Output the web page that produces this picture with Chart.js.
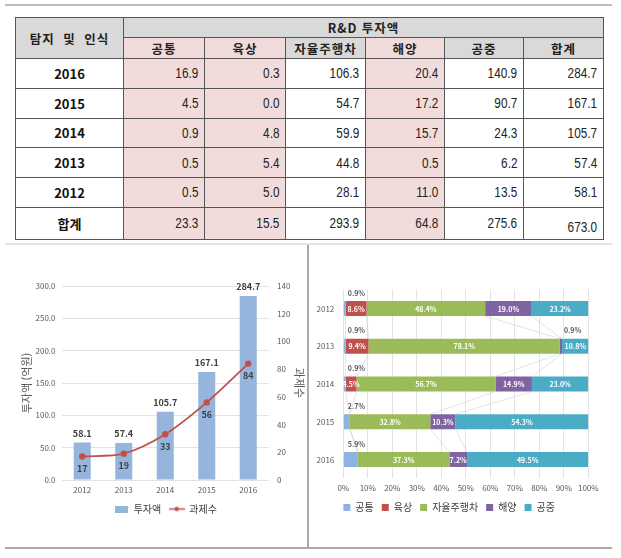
<!DOCTYPE html>
<html lang="ko">
<head>
<meta charset="utf-8">
<script src="https://cdn.jsdelivr.net/npm/chart.js@4.4.1/dist/chart.umd.min.js"></script>
<style>
  html, body { margin: 0; padding: 0; background: #fff; }
  body { position: relative; width: 621px; height: 558px; overflow: hidden; }
  .rule { position: absolute; }
  #tbl {
    position: absolute; left: 15px; top: 17px; width: 588px; height: 223px;
    border-collapse: collapse; table-layout: fixed;
    font-family: "Liberation Sans", sans-serif;
  }
  #tbl th, #tbl td { border: 1px solid #555; padding: 0; }
  #tbl th {
    font-family: "Noto Sans CJK KR", sans-serif; font-weight: bold;
    font-size: 12.5px; color: #222; letter-spacing: 1px; text-align: center;
  }
  #tbl td.yr { font-family: "Noto Sans CJK KR", sans-serif; font-weight: bold; font-size: 13px; text-align: center; color: #111; }
  #tbl td.tot { font-family: "Noto Sans CJK KR", sans-serif; font-weight: bold; font-size: 13px; text-align: center; color: #111; }
  #tbl td.v { font-size: 14px; text-align: right; padding-right: 6px; color: #222; }
  #tbl td.v span { display: inline-block; transform: scaleX(0.84); transform-origin: right center; }
  .g { background: #d9d9d9; }
  .p { background: #f2dcdb; }
  .box { position: absolute; }
</style>
</head>
<body>
<div class="rule" style="left:5px; top:4px; width:607px; height:2px; background:#bdbdbd"></div>
<table id="tbl"></table>
<div class="rule" style="left:5px; top:243px; width:607px; height:2px; background:#e4e4e4"></div>
<div class="rule" style="left:307px; top:245px; width:2px; height:303px; background:#ababab"></div>
<div class="rule" style="left:5px; top:547px; width:607px; height:2px; background:#ababab"></div>
<div class="box" style="left:0; top:246px; width:307px; height:300px"><canvas id="c1"></canvas></div>
<div class="box" style="left:310px; top:246px; width:301px; height:300px"><canvas id="c2"></canvas></div>
<script>
// 표: 분야별 R&D 투자액 (억원)
const cornerLabel = '탐지 및 인식';
const groupLabel = 'R&D 투자액';
const fields = ['공통', '육상', '자율주행차', '해양', '공중'];
const totalLabel = '합계';
const tableYears = ['2016', '2015', '2014', '2013', '2012'];
const common = [16.9, 4.5, 0.9, 0.5, 0.5];
const land = [0.3, 0.0, 4.8, 5.4, 5.0];
const auto = [106.3, 54.7, 59.9, 44.8, 28.1];
const marine = [20.4, 17.2, 15.7, 0.5, 11.0];
const air = [140.9, 90.7, 24.3, 6.2, 13.5];
const rowTotals = [284.7, 167.1, 105.7, 57.4, 58.1];
const colTotals = [23.3, 15.5, 293.9, 64.8, 275.6, 673.0];

// 왼쪽 그래프: 투자액 + 과제수
const chartYears = ['2012', '2013', '2014', '2015', '2016'];
const investment = [58.1, 57.4, 105.7, 167.1, 284.7];
const projects = [17, 19, 33, 56, 84];

// 오른쪽 그래프: 분야별 비중 (%)
const pctCommon = [0.9, 0.9, 0.9, 2.7, 5.9];
const pctLand = [8.6, 9.4, 4.5, 0.0, 0.1];
const pctAuto = [48.4, 78.1, 56.7, 32.8, 37.3];
const pctMarine = [19.0, 0.9, 14.9, 10.3, 7.2];
const pctAir = [23.2, 10.8, 23.0, 54.3, 49.5];

// ── 표 만들기 ──
const pinkCols = [0, 1, 3];
const colW = [108, 81, 81, 80, 79, 79, 80];
let html = '<colgroup>' + colW.map((w) => `<col style="width:${w}px">`).join('') + '</colgroup>';
html += `<tr style="height:20px"><th rowspan="2" class="g" style="word-spacing:4px">${cornerLabel}</th><th colspan="6" class="g">${groupLabel}</th></tr>`;
html += '<tr style="height:21px">' +
    [...fields, totalLabel].map((h, i) => `<th class="${pinkCols.includes(i) ? 'p' : 'g'}">${h}</th>`).join('') + '</tr>';
tableYears.forEach((y, r) => {
    const vals = [common[r], land[r], auto[r], marine[r], air[r], rowTotals[r]];
    html += `<tr style="height:29.7px"><td class="yr">${y}</td>` +
        vals.map((v, i) => `<td class="v${pinkCols.includes(i) ? ' p' : ''}"><span>${v.toFixed(1)}</span></td>`).join('') + '</tr>';
});
html += `<tr style="height:32px"><td class="tot">${totalLabel}</td>` +
    colTotals.map((v, i) => `<td class="v${pinkCols.includes(i) ? ' p' : ''}"${i === 5 ? ' style="padding-top:8px"' : ''}><span>${v.toFixed(1)}</span></td>`).join('') + '</tr>';
document.getElementById('tbl').innerHTML = html;

// ── 공통 설정 ──
Chart.defaults.font.family = '"Noto Sans CJK KR", "Noto Sans", sans-serif';
Chart.defaults.color = '#595959';
Chart.defaults.animation = false;

const barBlue = '#95b5dc';
const lineRed = '#c0504d';
const fieldColors = ['#8db3e2', '#c0504d', '#9bbb59', '#8064a2', '#4bacc6'];

const swatch = (w, h, draw) => {
    const c = document.createElement('canvas');
    c.width = w; c.height = h;
    draw(c.getContext('2d'));
    return c;
};
const legendBar = swatch(13, 7, (g) => { g.fillStyle = barBlue; g.fillRect(0, 0, 13, 7); });
const legendLine = swatch(16, 7, (g) => {
    g.strokeStyle = lineRed; g.lineWidth = 1.5;
    g.beginPath(); g.moveTo(0, 3.5); g.lineTo(16, 3.5); g.stroke();
    g.fillStyle = lineRed; g.beginPath(); g.arc(8, 3.5, 2.2, 0, Math.PI * 2); g.fill();
});

// 막대 위 / 점 아래 값 표시
const comboLabels = {
    id: 'comboLabels',
    afterDatasetsDraw(chart) {
        const { ctx } = chart;
        ctx.save();
        ctx.font = 'bold 9px "Noto Sans CJK KR", sans-serif';
        ctx.fillStyle = '#404040';
        ctx.textAlign = 'center';
        ctx.textBaseline = 'middle';
        chart.getDatasetMeta(0).data.forEach((bar, i) => {
            ctx.fillText(investment[i].toFixed(1), bar.x, bar.y - 9);
        });
        chart.getDatasetMeta(1).data.forEach((pt, i) => {
            ctx.fillText(String(projects[i]), pt.x, pt.y + 12);
        });
        ctx.restore();
    },
};

const flatTicks = { maxRotation: 0, minRotation: 0, autoSkip: false };

new Chart(document.getElementById('c1'), {
    data: {
        labels: chartYears,
        datasets: [
            {
                type: 'bar', label: '투자액', data: investment, yAxisID: 'y',
                backgroundColor: barBlue, categoryPercentage: 1, barPercentage: 0.41, order: 1,
            },
            {
                type: 'line', label: '과제수', data: projects, yAxisID: 'y1',
                borderColor: lineRed, backgroundColor: lineRed, borderWidth: 1.8,
                pointRadius: 2.3, pointBackgroundColor: lineRed, tension: 0.3, order: 0,
            },
        ],
    },
    options: {
        responsive: true, maintainAspectRatio: false,
        layout: { padding: { top: 40, bottom: 22, left: 0, right: 0 } },
        plugins: {
            tooltip: { enabled: false },
            legend: {
                position: 'bottom', fullSize: false,
                labels: {
                    usePointStyle: true, pointStyleWidth: 15, boxHeight: 7, padding: 8,
                    font: { size: 10 }, color: '#404040',
                    generateLabels: (chart) => {
                        const items = Chart.defaults.plugins.legend.labels.generateLabels(chart);
                        items.sort((a, b) => a.datasetIndex - b.datasetIndex);
                        items.forEach((it) => { it.pointStyle = it.datasetIndex === 0 ? legendBar : legendLine; });
                        return items;
                    },
                },
            },
        },
        scales: {
            x: {
                grid: { display: false, drawTicks: false }, border: { display: false },
                ticks: { ...flatTicks, font: { size: 8 }, padding: 5 },
                afterFit: (s) => { s.height = 16; },
            },
            y: {
                position: 'left', min: 0, max: 300,
                ticks: { stepSize: 50, callback: (v) => v.toFixed(1), font: { size: 8 }, padding: 6 },
                grid: { color: '#e3e3e3', drawTicks: false }, border: { display: false },
                title: { display: true, text: '투자액 (억원)', font: { size: 11 }, padding: { top: 20, bottom: 0 } },
                afterFit: (s) => { s.width = 61.5; },
            },
            y1: {
                position: 'right', min: 0, max: 140,
                ticks: { stepSize: 20, font: { size: 8 }, padding: 8 },
                grid: { display: false, drawTicks: false }, border: { display: false },
                title: { display: true, text: '과제수', font: { size: 11 }, padding: { top: 1.5, bottom: 0 } },
                afterFit: (s) => { s.width = 38; },
            },
        },
    },
    plugins: [comboLabels],
});

// 100% 누적 막대: 구간 값 + 계열선
const shareLabels = {
    id: 'shareLabels',
    afterDatasetsDraw(chart) {
        const { ctx } = chart;
        const metas = chart.data.datasets.map((_, k) => chart.getDatasetMeta(k));
        ctx.save();
        // 계열선
        ctx.strokeStyle = 'rgba(190,198,210,0.7)';
        ctx.lineWidth = 0.7;
        for (let k = 0; k < metas.length - 1; k++) {
            const bars = metas[k].data;
            for (let i = 0; i < bars.length - 1; i++) {
                const a = bars[i], b = bars[i + 1];
                ctx.beginPath();
                ctx.moveTo(a.x, a.y + a.height / 2);
                ctx.lineTo(b.x, b.y - b.height / 2);
                ctx.stroke();
            }
        }
        ctx.textBaseline = 'middle';
        ctx.font = 'bold 7px "Noto Sans CJK KR", sans-serif';
        metas.forEach((meta, k) => {
            const vals = chart.data.datasets[k].data;
            meta.data.forEach((bar, i) => {
                const v = vals[i];
                const txt = v.toFixed(1) + '%';
                if (k > 0 && v >= 4) {
                    ctx.fillStyle = '#ffffff';
                    ctx.textAlign = 'center';
                    ctx.fillText(txt, (bar.x + bar.base) / 2, bar.y + 0.5);
                } else if (v >= 0.5) {
                    ctx.fillStyle = '#595959';
                    ctx.textAlign = 'left';
                    ctx.fillText(txt, bar.base + 4, bar.y - bar.height / 2 - 8);
                }
            });
        });
        ctx.restore();
    },
};

const shareSeries = [pctCommon, pctLand, pctAuto, pctMarine, pctAir];

new Chart(document.getElementById('c2'), {
    type: 'bar',
    data: {
        labels: chartYears,
        datasets: fields.map((f, k) => ({
            label: f, data: shareSeries[k], backgroundColor: fieldColors[k],
            categoryPercentage: 1, barPercentage: 0.4,
        })),
    },
    options: {
        indexAxis: 'y',
        responsive: true, maintainAspectRatio: false,
        layout: { padding: { top: 43.6, bottom: 23.6, left: 0, right: 22.7 } },
        plugins: {
            tooltip: { enabled: false },
            legend: {
                position: 'bottom',
                labels: {
                    usePointStyle: true, pointStyle: 'rect', pointStyleWidth: 7, boxHeight: 7,
                    padding: 8, font: { size: 10 }, color: '#404040',
                },
            },
        },
        scales: {
            x: {
                stacked: true, min: 0, max: 100,
                ticks: { ...flatTicks, stepSize: 10, callback: (v) => v + '%', font: { size: 8 }, padding: 5 },
                grid: { color: '#e3e3e3', drawTicks: false }, border: { display: false },
                afterFit: (s) => { s.height = 16; },
            },
            y: {
                stacked: true,
                grid: { display: false, drawTicks: false }, border: { display: false },
                ticks: { font: { size: 8 }, padding: 9 },
                afterFit: (s) => { s.width = 33.3; },
            },
        },
    },
    plugins: [shareLabels],
});
</script>
</body>
</html>
